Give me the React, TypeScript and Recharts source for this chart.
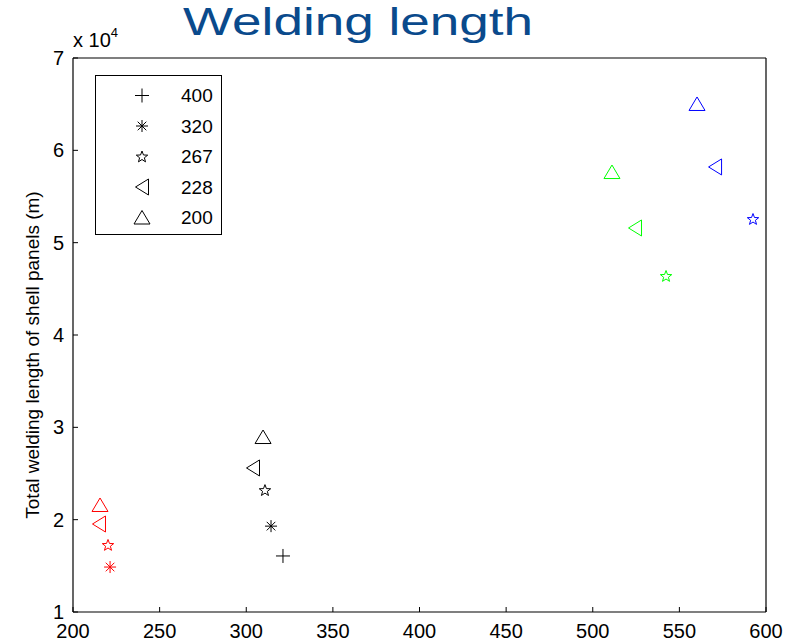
import React from 'react';
import { ScatterChart, Scatter, XAxis, YAxis, Legend, Customized } from 'recharts';

const FONT = '"Liberation Sans", Arial, Helvetica, sans-serif';

// Axis ticks
const xTicks = [200, 250, 300, 350, 400, 450, 500, 550, 600];
const yTicks = [10000, 20000, 30000, 40000, 50000, 60000, 70000];

// One colour per group of designs
const groupColors = ['#ff0000', '#000000', '#00ff00', '#0000ff'];

// Legend entries (marker shape per panel size)
const legendLabels = ['400', '320', '267', '228', '200'];
const markerKinds = ['plus', 'asterisk', 'star', 'left', 'up'];

// Points per panel size: x, total welding length (m), group index
const points400 = [{ x: 321.2, y: 16070, group: 1 }];
const points320 = [
  { x: 221.4, y: 14870, group: 0 },
  { x: 314.3, y: 19300, group: 1 },
];
const points267 = [
  { x: 220.2, y: 17260, group: 0 },
  { x: 310.8, y: 23200, group: 1 },
  { x: 542.3, y: 46390, group: 2 },
  { x: 592.5, y: 52560, group: 3 },
];
const points228 = [
  { x: 215.0, y: 19530, group: 0 },
  { x: 303.9, y: 25600, group: 1 },
  { x: 524.4, y: 51590, group: 2 },
  { x: 570.6, y: 58200, group: 3 },
];
const points200 = [
  { x: 215.6, y: 21590, group: 0 },
  { x: 309.7, y: 28950, group: 1 },
  { x: 511.1, y: 57650, group: 2 },
  { x: 560.2, y: 65020, group: 3 },
];

const seriesData = [points400, points320, points267, points228, points200];

function starPath(cx: number, cy: number, R: number, r: number) {
  const pts: string[] = [];
  for (let i = 0; i < 10; i++) {
    const rad = i % 2 === 0 ? R : r;
    const a = -Math.PI / 2 + (i * Math.PI) / 5;
    pts.push(`${(cx + rad * Math.cos(a)).toFixed(2)},${(cy + rad * Math.sin(a)).toFixed(2)}`);
  }
  return `M${pts.join('L')}Z`;
}

function Marker({ kind, cx, cy, color }: { kind: string; cx: number; cy: number; color: string }) {
  const common = { fill: 'none', stroke: color, strokeWidth: 1 };
  switch (kind) {
    case 'plus':
      return (
        <g {...common}>
          <line x1={cx - 7} y1={cy} x2={cx + 7} y2={cy} />
          <line x1={cx} y1={cy - 7} x2={cx} y2={cy + 7} />
        </g>
      );
    case 'asterisk': {
      const d = 4.3;
      return (
        <g {...common}>
          <line x1={cx - 6} y1={cy} x2={cx + 6} y2={cy} />
          <line x1={cx} y1={cy - 6} x2={cx} y2={cy + 6} />
          <line x1={cx - d} y1={cy - d} x2={cx + d} y2={cy + d} />
          <line x1={cx - d} y1={cy + d} x2={cx + d} y2={cy - d} />
        </g>
      );
    }
    case 'star':
      return <path d={starPath(cx, cy + 0.5, 6, 2.5)} {...common} />;
    case 'left':
      return (
        <path
          d={`M${cx - 6.5},${cy}L${cx + 6.5},${cy - 8}L${cx + 6.5},${cy + 8}Z`}
          {...common}
        />
      );
    default:
      return (
        <path
          d={`M${cx},${cy - 7}L${cx + 8},${cy + 6.5}L${cx - 8},${cy + 6.5}Z`}
          {...common}
        />
      );
  }
}

function LegendBox() {
  return (
    <svg width={128} height={161} style={{ display: 'block' }}>
      <rect x={0.5} y={0.5} width={126} height={159} fill="#fff" stroke="#000" strokeWidth={1} />
      {legendLabels.map((label, i) => {
        const cy = 20.5 + i * 30.5;
        return (
          <g key={label}>
            <Marker kind={markerKinds[i]} cx={47} cy={cy} color="#000" />
            <text
              x={86}
              y={cy}
              dy="0.36em"
              fontSize={19}
              fontFamily={FONT}
              fill="#000"
            >
              {label}
            </text>
          </g>
        );
      })}
    </svg>
  );
}

function Headings() {
  return (
    <g fontFamily={FONT}>
      <text
        x={358}
        y={35}
        textAnchor="middle"
        fontSize={39}
        fill="#0a4a8c"
        textLength={350}
        lengthAdjust="spacingAndGlyphs"
      >
        Welding length
      </text>
      <text x={73} y={47} fontSize={20} fill="#000">
        x 10
        <tspan dy={-10} fontSize={13}>
          4
        </tspan>
      </text>
    </g>
  );
}

const YLabel = (props: any) => {
  const vb = props.viewBox || { x: 0, y: 58, width: 73, height: 554 };
  const cx = vb.x + 32;
  const cy = vb.y + vb.height / 2 + 20;
  return (
    <text
      x={cx}
      y={cy}
      transform={`rotate(-90, ${cx}, ${cy})`}
      textAnchor="middle"
      dominantBaseline="central"
      fontSize={19}
      fontFamily={FONT}
      fill="#000"
    >
      Total welding length of shell panels (m)
    </text>
  );
};

const tickStyle = { fontSize: 20, fontFamily: FONT, fill: '#000' };

export default function App() {
  return (
    <div style={{ position: 'absolute', left: 0, top: 0, width: 796, height: 643, background: '#fff' }}>
      <ScatterChart
        width={796}
        height={643}
        margin={{ top: 57, right: 29, bottom: 0, left: 0 }}
      >
        <XAxis
          type="number"
          dataKey="x"
          domain={[200, 600]}
          ticks={xTicks}
          interval={0}
          height={31}
          tickSize={-5}
          tickMargin={17}
          tick={tickStyle}
          stroke="#000"
          axisLine={{ stroke: '#000', strokeWidth: 1.2 }}
          tickLine={{ stroke: '#000' }}
          allowDataOverflow
        />
        <XAxis
          xAxisId="top"
          orientation="top"
          type="number"
          dataKey="x"
          domain={[200, 600]}
          ticks={xTicks}
          interval={0}
          height={1}
          tickSize={-5}
          tick={false}
          axisLine={{ stroke: '#000', strokeWidth: 1.2 }}
          tickLine={{ stroke: '#000' }}
          allowDataOverflow
        />
        <YAxis
          type="number"
          dataKey="y"
          domain={[10000, 70000]}
          ticks={yTicks}
          interval={0}
          width={73}
          tickSize={-5}
          tickMargin={14}
          tick={tickStyle}
          tickFormatter={(v: number) => String(v / 10000)}
          axisLine={{ stroke: '#000', strokeWidth: 1.2 }}
          tickLine={{ stroke: '#000' }}
          label={<YLabel />}
          allowDataOverflow
        />
        <YAxis
          yAxisId="right"
          orientation="right"
          type="number"
          dataKey="y"
          domain={[10000, 70000]}
          ticks={yTicks}
          interval={0}
          width={1}
          tickSize={-5}
          tick={false}
          axisLine={{ stroke: '#000', strokeWidth: 1.2 }}
          tickLine={{ stroke: '#000' }}
          allowDataOverflow
        />
        {seriesData.map((pts, i) => (
          <Scatter
            key={legendLabels[i]}
            name={legendLabels[i]}
            data={pts}
            isAnimationActive={false}
            shape={(p: any) => (
              <Marker
                kind={markerKinds[i]}
                cx={p.cx}
                cy={p.cy}
                color={groupColors[p.payload.group]}
              />
            )}
          />
        ))}
        <Legend
          layout="vertical"
          align="center"
          verticalAlign="middle"
          wrapperStyle={{ left: 95, top: 75, width: 128, height: 161 }}
          content={() => <LegendBox />}
        />
        <Customized component={Headings} />
      </ScatterChart>
    </div>
  );
}
